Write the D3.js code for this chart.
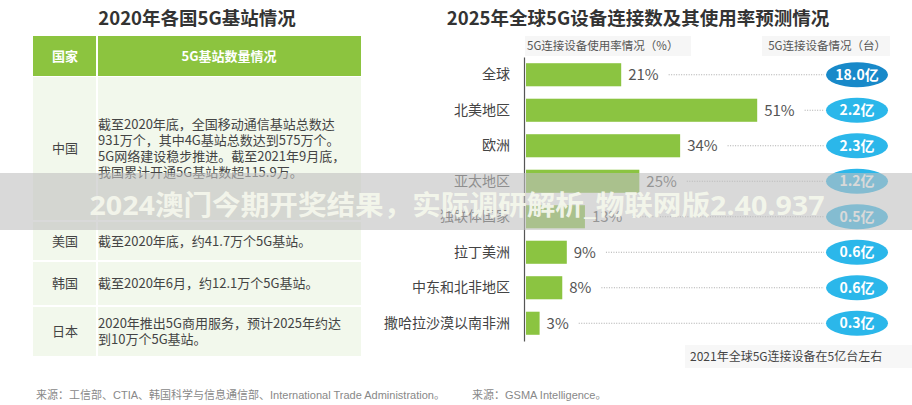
<!DOCTYPE html>
<html><head><meta charset="utf-8">
<script src="https://cdn.jsdelivr.net/npm/d3@7"></script>
<style>
html,body{margin:0;padding:0;background:#fff;}
svg{display:block;font-family:"Noto Sans CJK SC","Noto Sans",sans-serif;}
</style></head>
<body><svg id="c" width="912" height="405"></svg>
<script>
// ---------- data ----------
const leftTitle = "2020年各国5G基站情况";
const tableHeaders = ["国家", "5G基站数量情况"];
const countries = ["中国", "美国", "韩国", "日本"];
const stationNotes = [
  ["截至2020年底，全国移动通信基站总数达", "931万个，其中4G基站总数达到575万个。", "5G网络建设稳步推进。截至2021年9月底，", "我国累计开通5G基站数超115.9万。"],
  ["截至2020年底，约41.7万个5G基站。"],
  ["截至2020年6月，约12.1万个5G基站。"],
  ["2020年推出5G商用服务，预计2025年约达", "到10万个5G基站。"]
];
const leftSource = "来源：工信部、CTIA、韩国科学与信息通信部、International Trade Administration。";

const rightTitle = "2025年全球5G设备连接数及其使用率预测情况";
const rateHeader = "5G连接设备使用率情况（%）";
const deviceHeader = "5G连接设备情况（台）";
const regions = ["全球", "北美地区", "欧洲", "亚太地区", "独联体国家", "拉丁美洲", "中东和北非地区", "撒哈拉沙漠以南非洲"];
const usageRate = [21, 51, 34, 25, 13, 9, 8, 3];
const devices = [18.0, 2.2, 2.3, 1.2, 0.5, 0.6, 0.6, 0.3];
const note2021 = "2021年全球5G连接设备在5亿台左右";
const rightSource = "来源：GSMA Intelligence。";
const overlayText = "2024澳门今期开奖结果，实际调研解析_物联网版2.40.937";

// ---------- drawing ----------
const svg = d3.select("#c");
const CJK = '"Noto Sans CJK SC","Noto Sans",sans-serif';
const LAT = '"Liberation Sans","Noto Sans CJK SC",sans-serif';

// Left title
svg.append("text").attr("x", 197).attr("y", 25).attr("text-anchor", "middle")
  .attr("font-size", 18.5).attr("font-weight", 700).attr("fill", "#333").text(leftTitle);

// Table
const tX0 = 33, tX1 = 361, colX = 97;
const green = "#8cc43f", cellBg = "#f2f8ec";
const headerY0 = 36, headerY1 = 76;
svg.append("rect").attr("x", tX0).attr("y", headerY0).attr("width", tX1 - tX0).attr("height", headerY1 - headerY0).attr("fill", green);
svg.append("text").attr("x", (tX0 + colX) / 2).attr("y", 61).attr("text-anchor", "middle")
  .attr("font-size", 13).attr("font-weight", 700).attr("fill", "#fff").text(tableHeaders[0]);
svg.append("text").attr("x", (colX + tX1) / 2).attr("y", 61).attr("text-anchor", "middle")
  .attr("font-size", 13).attr("font-weight", 700).attr("fill", "#fff").text(tableHeaders[1]);

const rowTops = [77, 222, 262, 307];
const rowBots = [220, 260, 305, 356];
const lineH = 16;
countries.forEach((c, i) => {
  const y0 = rowTops[i], y1 = rowBots[i], cy = (y0 + y1) / 2;
  svg.append("rect").attr("x", tX0).attr("y", y0).attr("width", tX1 - tX0).attr("height", y1 - y0).attr("fill", cellBg);
  svg.append("text").attr("x", (tX0 + colX) / 2).attr("y", cy + 4.5).attr("text-anchor", "middle")
    .attr("font-size", 13).attr("fill", "#444").text(c);
  const lines = stationNotes[i];
  const startY = cy - (lines.length - 1) * lineH / 2;
  lines.forEach((l, k) => {
    svg.append("text").attr("x", 98).attr("y", startY + k * lineH + 4.5)
      .attr("font-size", 13).attr("fill", "#444").text(l);
  });
});
// column divider
svg.append("line").attr("x1", colX).attr("x2", colX).attr("y1", headerY0).attr("y2", 356)
  .attr("stroke", "#fff").attr("stroke-width", 2);

svg.append("text").attr("x", 36).attr("y", 399).attr("font-size", 11).attr("fill", "#888")
  .style("font-family", LAT).text(leftSource);

// Right title
svg.append("text").attr("x", 638).attr("y", 25).attr("text-anchor", "middle")
  .attr("font-size", 18.5).attr("font-weight", 700).attr("fill", "#333").text(rightTitle);

// sub headers
svg.append("rect").attr("x", 525).attr("y", 36).attr("width", 166).attr("height", 20).attr("fill", "#f6f6f6");
svg.append("text").attr("x", 527).attr("y", 50).attr("font-size", 11.5).attr("fill", "#555").text(rateHeader);
svg.append("rect").attr("x", 762).attr("y", 36).attr("width", 128).attr("height", 20).attr("fill", "#f6f6f6");
svg.append("text").attr("x", 886).attr("y", 50).attr("text-anchor", "end").attr("font-size", 11.5).attr("fill", "#555").text(deviceHeader);

const x = d3.scaleLinear().domain([0, 60]).range([525, 797]);
const y = d3.scaleBand().domain(regions).range([57, 341]).paddingInner(0.35).paddingOuter(0.175);

const yAxis = d3.axisLeft(y).tickSize(0).tickPadding(14);
const ax = svg.append("g").attr("transform", "translate(524,0)").call(yAxis);
ax.select(".domain").attr("stroke", "#555").attr("stroke-width", 1.2);
ax.selectAll("text").attr("font-size", 14).attr("fill", "#444").style("font-family", CJK);

const pillCx = 857, pillRx = 31, pillRy = 12.5;
regions.forEach((r, i) => {
  const by = y(r), bh = y.bandwidth(), cy = by + bh / 2;
  svg.append("rect").attr("x", x(0) + 1).attr("y", by).attr("width", x(usageRate[i]) - x(0)).attr("height", bh).attr("fill", "#8bc441");
  const lbl = svg.append("text").attr("x", x(usageRate[i]) + 8).attr("y", cy + 5.5)
    .attr("font-size", 15).attr("fill", "#555").text(usageRate[i] + "%");
  const w = lbl.node().getComputedTextLength();
  svg.append("line").attr("x1", x(usageRate[i]) + 8 + w + 10).attr("x2", pillCx - pillRx - 2)
    .attr("y1", cy).attr("y2", cy).attr("stroke", "#aaa").attr("stroke-width", 1).attr("stroke-dasharray", "1,1.5");
  svg.append("ellipse").attr("cx", pillCx).attr("cy", cy).attr("rx", pillRx).attr("ry", pillRy)
    .attr("fill", i === 0 ? "#1889c9" : "#2bb7ea");
  svg.append("text").attr("x", pillCx).attr("y", cy + 5).attr("text-anchor", "middle")
    .attr("font-size", 14).attr("font-weight", 700).attr("fill", "#fff").text(devices[i].toFixed(1) + "亿");
});

svg.append("rect").attr("x", 685).attr("y", 345).attr("width", 227).attr("height", 23).attr("fill", "#f7f7f7");
svg.append("text").attr("x", 690).attr("y", 361).attr("font-size", 12).attr("fill", "#444").text(note2021);

svg.append("text").attr("x", 472).attr("y", 399).attr("font-size", 11).attr("fill", "#888")
  .style("font-family", LAT).text(rightSource);

// overlay band
svg.append("rect").attr("x", 0).attr("y", 173).attr("width", 912).attr("height", 57)
  .attr("fill", "rgba(192,192,192,0.6)");
svg.append("text").attr("x", 457).attr("y", 215).attr("text-anchor", "middle")
  .attr("font-size", 27).attr("font-weight", 700).attr("fill", "#f4f7ec").attr("fill-opacity", 0.95)
  .attr("textLength", 735).attr("lengthAdjust", "spacingAndGlyphs")
  .style("font-family", '"Open Sans","Noto Sans CJK SC",sans-serif').text(overlayText);
</script></body></html>
